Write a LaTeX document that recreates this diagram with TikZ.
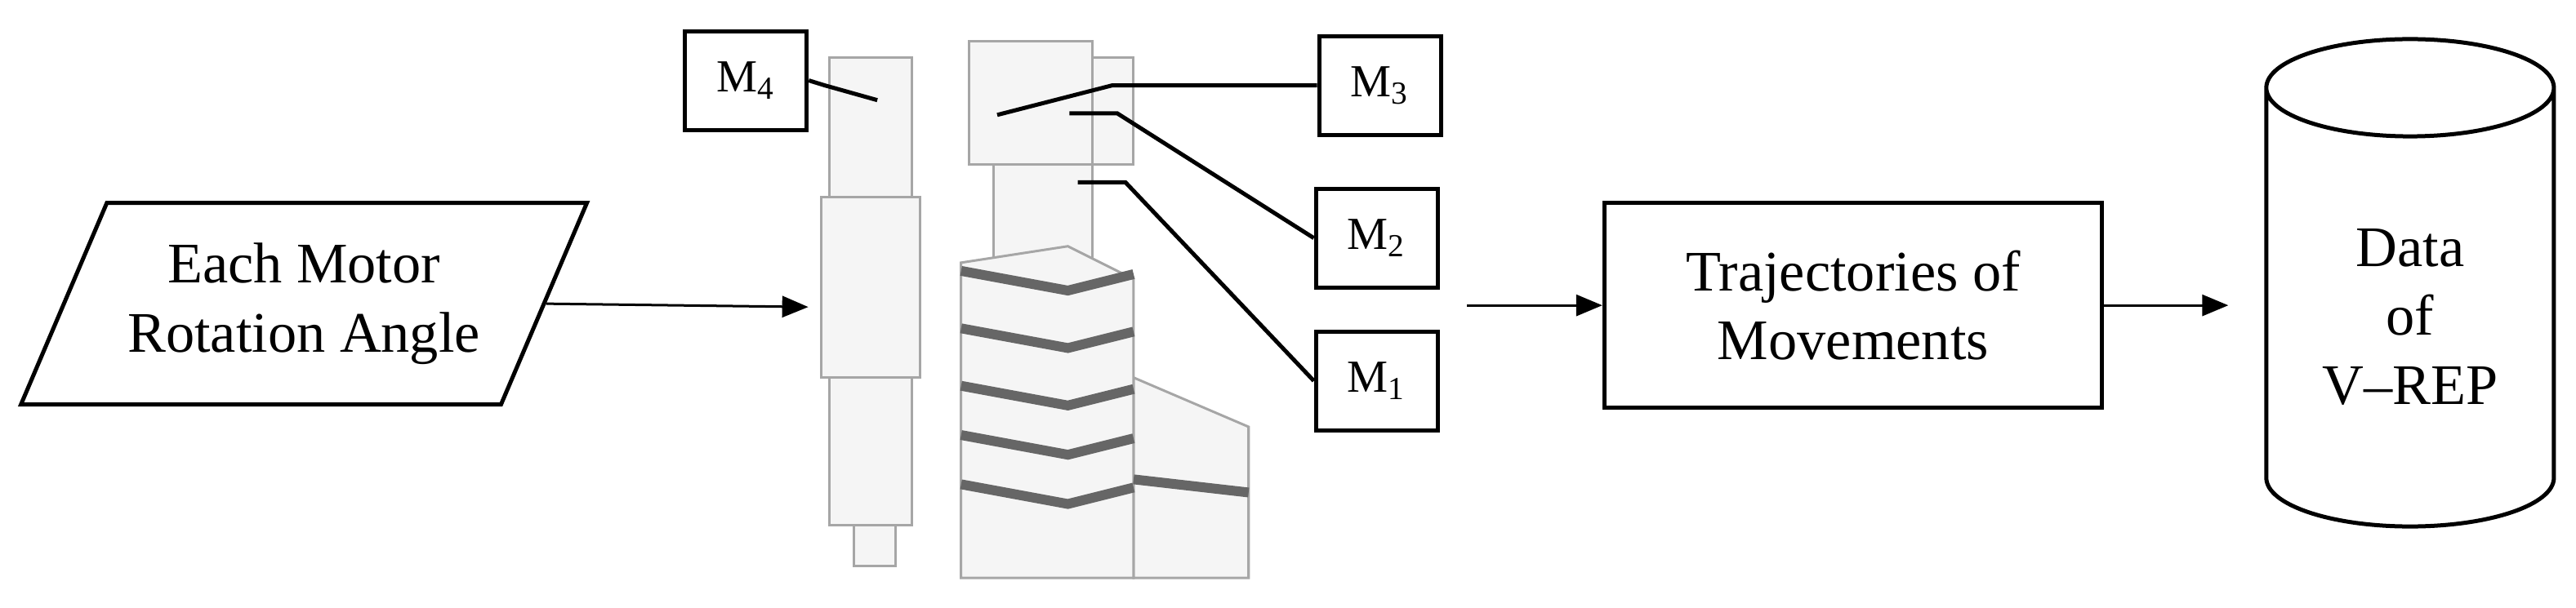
\documentclass[tikz,border=0pt]{standalone}
\usepackage{fontspec}
\setmainfont{Liberation Serif}
\usetikzlibrary{arrows.meta,shapes.geometric}
\tikzset{
  mbox/.style={draw=black,line width=0.5mm,minimum width=14.9mm,minimum height=12.1mm,font=\fontsize{16}{18}\selectfont},
  bigbox/.style={draw=black,line width=0.5mm,font=\fontsize{20}{24}\selectfont,align=center},
  arr/.style={line width=0.3mm,-{Triangle[length=3.2mm,width=2.6mm]}},
  lead/.style={line width=0.5mm},
  part/.style={draw=gray!70,line width=0.3mm,fill=gray!8},
  band/.style={draw=gray!80!black,line width=1.2mm}
}
\begin{document}
\begin{tikzpicture}[x=0.2011mm,y=-0.2011mm]
    \useasboundingbox (0,0) rectangle (1568,370);
    % robot sketch
    \draw[part] (505,35) rectangle (555,120);
    \draw[part] (500,120) rectangle (560,230);
    \draw[part] (505,230) rectangle (555,320);
    \draw[part] (520,320) rectangle (545,345);
    \draw[part] (590,25) rectangle (665,100);
    \draw[part] (605,100) rectangle (665,160);
    \draw[part] (665,35) rectangle (690,100);
    \draw[part] (610,160) rectangle (640,190);
    \draw[part] (690,230) -- (760,260) -- (760,352) -- (690,352) -- cycle;
    \draw[part] (585,160) -- (650,150) -- (690,170) -- (690,352) -- (585,352) -- cycle;
    \foreach \y in {165,200,235,265,295}
        \draw[band] (585,\y) -- (650,\y+12) -- (690,\y+2);
    \draw[band] (690,292) -- (760,300);
    % nodes
    \node[bigbox,trapezium,trapezium left angle=60,trapezium right angle=120,trapezium stretches=true,minimum width=69.4mm,minimum height=24.7mm] (angle) at (185,185) {Each Motor\\Rotation Angle};
    \node[bigbox,minimum width=60.9mm,minimum height=25.1mm] (traj) at (1128,186) {Trajectories of\\Movements};
    \node[bigbox,cylinder,shape border rotate=90,aspect=0.5,minimum width=35.2mm,minimum height=59.7mm] (vrep) at (1467,193) {Data\\of\\V--REP};
    \node[mbox] (m4) at (454,49) {M\textsubscript{4}};
    \node[mbox] (m3) at (840,52) {M\textsubscript{3}};
    \node[mbox] (m2) at (838,145) {M\textsubscript{2}};
    \node[mbox] (m1) at (838,232) {M\textsubscript{1}};
    \coordinate (robotin) at (492,187);
    \coordinate (robotout) at (893,186);
    % connectors
    \draw[arr] (angle.east) -- (robotin);
    \draw[arr] (robotout) -- (traj.west);
    \draw[arr,shorten >=4.4mm] (traj.east) -- (traj.east -| vrep.west);
    \draw[lead] (m4.east) -- (502,52) -- (534,61);
    \draw[lead] (m3.west) -- (677,52) -- (607,70);
    \draw[lead] (m2.west) -- (680,69) -- (651,69);
    \draw[lead] (m1.west) -- (685,111) -- (656,111);
\end{tikzpicture}
\end{document}
